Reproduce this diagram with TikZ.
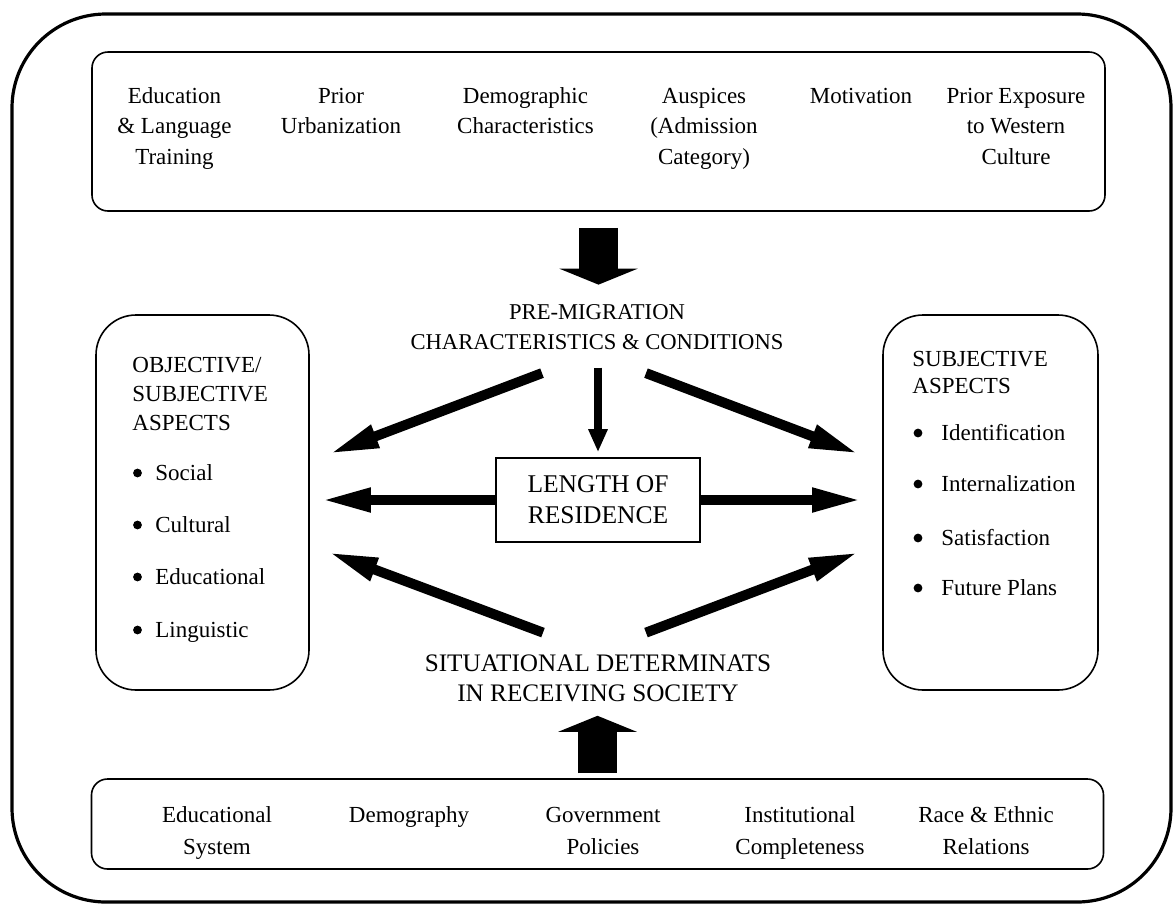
\documentclass[tikz,border=0pt]{standalone}
\usepackage{fontspec}
\setmainfont{Liberation Serif}
\usetikzlibrary{arrows.meta}
\tikzstyle{frame}=[draw,line width=1.6pt,rounded corners=47pt]
\tikzstyle{panel}=[draw,line width=0.8pt,rounded corners=8pt,inner sep=0pt]
\tikzstyle{aspect}=[draw,line width=0.8pt,rounded corners=20pt,inner sep=0pt,minimum height=187.5pt]
\tikzstyle{item}=[align=center,anchor=base,inner sep=0pt,font=\fontsize{11.5}{15.25}\selectfont]
\tikzstyle{entry}=[align=left,anchor=base west,inner sep=0pt,font=\fontsize{11.5}{14.5}\selectfont]
\tikzstyle{dot}=[circle,fill,inner sep=0pt,minimum size=4.4pt]
\tikzstyle{flow}=[draw,line width=5pt,-{Triangle[length=25pt,width=11pt]}]
\tikzstyle{thinflow}=[draw,line width=4pt,-{Triangle[length=11.5pt,width=9pt]}]
\tikzstyle{block}=[draw,line width=19.5pt,-{Triangle[length=8pt,width=39pt]}]
\begin{document}
\begin{tikzpicture}[x=0.5pt,y=-0.5pt]
\useasboundingbox (0,0) rectangle (1173,906);
\draw[frame] (12,14) rectangle (1171,902);
% boxes
\node[panel,minimum width=506.5pt,minimum height=79.5pt] (top) at (598.5,131.5) {};
\node[panel,minimum width=506pt,minimum height=45pt] (bot) at (597.5,824) {};
\node[aspect,minimum width=106.5pt] (obj) at (202.5,502.5) {};
\node[aspect,minimum width=107.5pt] (subj) at (990.5,502.5) {};
\node[draw,line width=0.8pt,minimum width=102pt,minimum height=42pt,align=center,
      font=\fontsize{12.75}{15.5}\selectfont] (len) at (598,500) {LENGTH OF\\RESIDENCE};
% pre-migration items (base = last line)
\node[item] (edu) at (174.5,164) {Education\\\& Language\\Training};
\node[item] (urb) at (341,133.5) {Prior\\Urbanization};
\node[item] (demo) at (525.5,133.5) {Demographic\\Characteristics};
\node[item] (ausp) at (704,164) {Auspices\\(Admission\\Category)};
\node[item] (motiv) at (861,103) {Motivation};
\node[item] (expo) at (1016,164) {Prior Exposure\\to Western\\Culture};
% receiving society items
\node[item,font=\fontsize{11.5}{16}\selectfont] (esys) at (217,854) {Educational\\System};
\node[item,font=\fontsize{11.5}{16}\selectfont] (dgr) at (409,822) {Demography};
\node[item,font=\fontsize{11.5}{16}\selectfont] (gov) at (603,854) {Government\\Policies};
\node[item,font=\fontsize{11.5}{16}\selectfont] (inst) at (800,854) {Institutional\\Completeness};
\node[item,font=\fontsize{11.5}{16}\selectfont] (race) at (986,854) {Race \& Ethnic\\Relations};
% centre labels
\node[item,font=\fontsize{11.3}{15}\selectfont] (pre) at (597,349) {PRE-MIGRATION\\CHARACTERISTICS \& CONDITIONS};
\node[item,font=\fontsize{12.6}{15}\selectfont] (sit) at (598,701) {SITUATIONAL DETERMINATS\\IN RECEIVING SOCIETY};
% aspects
\node[entry] (objhead) at (132,430) {OBJECTIVE/\\SUBJECTIVE\\ASPECTS};
\path (137.5,473) node[dot] {} ++(0,52) node[dot] {}
      ++(0,52) node[dot] {} ++(0,53) node[dot] {};
\path (155,480) node[entry] (soc) {Social} ++(0,52) node[entry] (cult) {Cultural}
      ++(0,52) node[entry] (educ) {Educational} ++(0,53) node[entry] (ling) {Linguistic};
\node[entry,font=\fontsize{11.5}{13.5}\selectfont] (subjhead) at (912,393) {SUBJECTIVE\\ASPECTS};
\path (918,433) node[dot] {} ++(0,51) node[dot] {}
      ++(0,54) node[dot] {} ++(0,50) node[dot] {};
\path (941,440) node[entry] (ident) {Identification} ++(0,51) node[entry] (intern) {Internalization}
      ++(0,54) node[entry] (satis) {Satisfaction} ++(0,50) node[entry] (plans) {Future Plans};
% arrows
\draw[block,shorten <=8pt,shorten >=9.5pt] (top.south) -- (top.south |- pre.north);
\draw[block,shorten <=2.5pt,shorten >=7pt] (bot.north) -- (bot.north |- sit.south);
\draw[thinflow,shorten <=9pt,shorten >=2.5pt] (pre.south -| len.north) -- (len.north);
\draw[flow] ([xshift=-27.5pt,yshift=-11.75pt]pre.south) -- ([xshift=9.5pt,yshift=24.25pt]obj.east);
\draw[flow] ([xshift=24.5pt,yshift=-11.75pt]pre.south) -- ([xshift=-11.5pt,yshift=24.25pt]subj.west);
\draw[flow,shorten >=5.5pt] (len.west) -- (len.west -| obj.east);
\draw[flow,shorten >=10pt] (len.east) -- (len.east -| subj.west);
\draw[flow] ([xshift=-27.5pt,yshift=10.65pt]sit.north) -- ([xshift=9pt,yshift=-24.75pt]obj.east);
\draw[flow] ([xshift=24pt,yshift=10.65pt]sit.north) -- ([xshift=-11.5pt,yshift=-24.75pt]subj.west);
\end{tikzpicture}
\end{document}
